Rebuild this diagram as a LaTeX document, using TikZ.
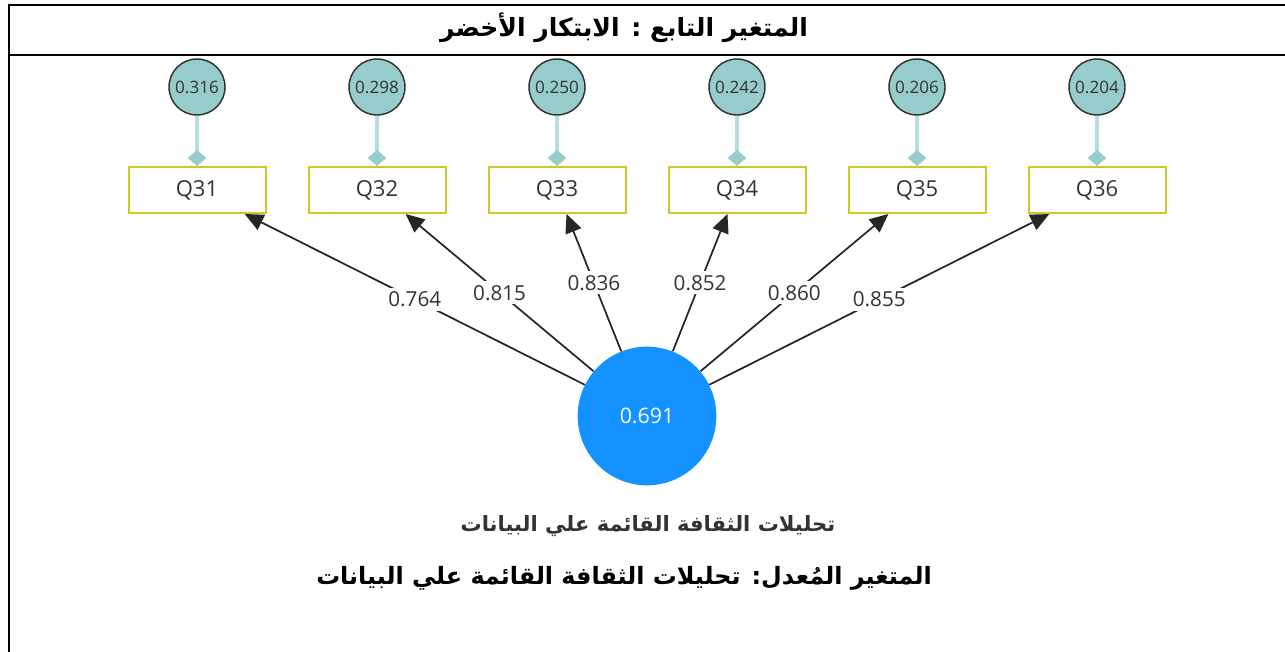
\documentclass[tikz,border=0pt]{standalone}
\usepackage{fontspec}
\setmainfont{Open Sans}
\newfontfamily\arabicfont[Script=Arabic]{DejaVu Sans}
\TeXXeTstate=1
\usepackage{tikz}
\usetikzlibrary{arrows.meta}

\definecolor{errfill}{RGB}{150,205,204}
\definecolor{errline}{RGB}{182,222,222}
\definecolor{itemline}{RGB}{208,200,34}
\definecolor{lvfill}{RGB}{20,146,255}
\definecolor{textgray}{RGB}{51,51,51}

\tikzset{
    errnode/.style={circle, draw=black!80, line width=1.1pt, fill=errfill, minimum size=42pt, inner sep=0pt, text=textgray, font=\fontsize{12.8}{14}\selectfont},
    itembox/.style={draw=itemline, line width=1.5pt, fill=white, minimum width=102.75pt, minimum height=34.5pt, inner sep=0pt, text=textgray, font=\fontsize{16.5}{19}\selectfont},
    lvnode/.style={circle, fill=lvfill, minimum size=104pt, inner sep=0pt, text=white, font=\fontsize{16}{19}\selectfont},
    loading/.style={-{Triangle[length=14pt,width=12.5pt]}, line width=1.3pt, black!85},
    errlink/.style={-{Diamond[length=12pt,width=14pt,color=errfill]}, line width=3pt, errline},
    weight/.style={midway, fill=white, inner sep=3pt, text=textgray, font=\fontsize{15.5}{18}\selectfont}
}

\begin{document}
\begin{tikzpicture}[x=0.75pt, y=-0.75pt]

            \useasboundingbox (0,0) rectangle (1285,652);

            \draw[line width=1.6pt] (9,652) -- (9,5) -- (1285,5);
            \draw[line width=1.6pt] (9,55) -- (126,55);
            \draw[line width=0.8pt] (126,55) -- (1172,55);
            \draw[line width=1.6pt] (1172,55) -- (1285,55);

            \node (title) at (624,28) {\arabicfont\bfseries\fontsize{18.8}{22}\selectfont\beginR المتغير التابع : الابتكار الأخضر\endR};

            \node[itembox] (q31) at (197,190) {Q31};
            \node[itembox] (q32) at (377,190) {Q32};
            \node[itembox] (q33) at (557,190) {Q33};
            \node[itembox] (q34) at (737,190) {Q34};
            \node[itembox] (q35) at (917,190) {Q35};
            \node[itembox] (q36) at (1097,190) {Q36};

            \node[errnode] (e31) at (197,87) {0.316};
            \node[errnode] (e32) at (377,87) {0.298};
            \node[errnode] (e33) at (557,87) {0.250};
            \node[errnode] (e34) at (737,87) {0.242};
            \node[errnode] (e35) at (917,87) {0.206};
            \node[errnode] (e36) at (1097,87) {0.204};

            \draw[errlink] (e31) -- (q31);
            \draw[errlink] (e32) -- (q32);
            \draw[errlink] (e33) -- (q33);
            \draw[errlink] (e34) -- (q34);
            \draw[errlink] (e35) -- (q35);
            \draw[errlink] (e36) -- (q36);

            \node[lvnode] (culture) at (647,416) {0.691};

            \draw[loading] (culture) -- (q31) node[weight] {0.764};
            \draw[loading] (culture) -- (q32) node[weight] {0.815};
            \draw[loading] (culture) -- (q33) node[weight] {0.836};
            \draw[loading] (culture) -- (q34) node[weight] {0.852};
            \draw[loading] (culture) -- (q35) node[weight] {0.860};
            \draw[loading] (culture) -- (q36) node[weight] {0.855};

            \node[text=textgray] (lvname) at (648,526) {\arabicfont\bfseries\fontsize{15.8}{19}\selectfont\beginR تحليلات الثقافة القائمة علي البيانات\endR};
            \node (modname) at (624,578) {\arabicfont\bfseries\fontsize{17.9}{21}\selectfont\beginR المتغير المُعدل: تحليلات الثقافة القائمة علي البيانات\endR};

\end{tikzpicture}
\end{document}
